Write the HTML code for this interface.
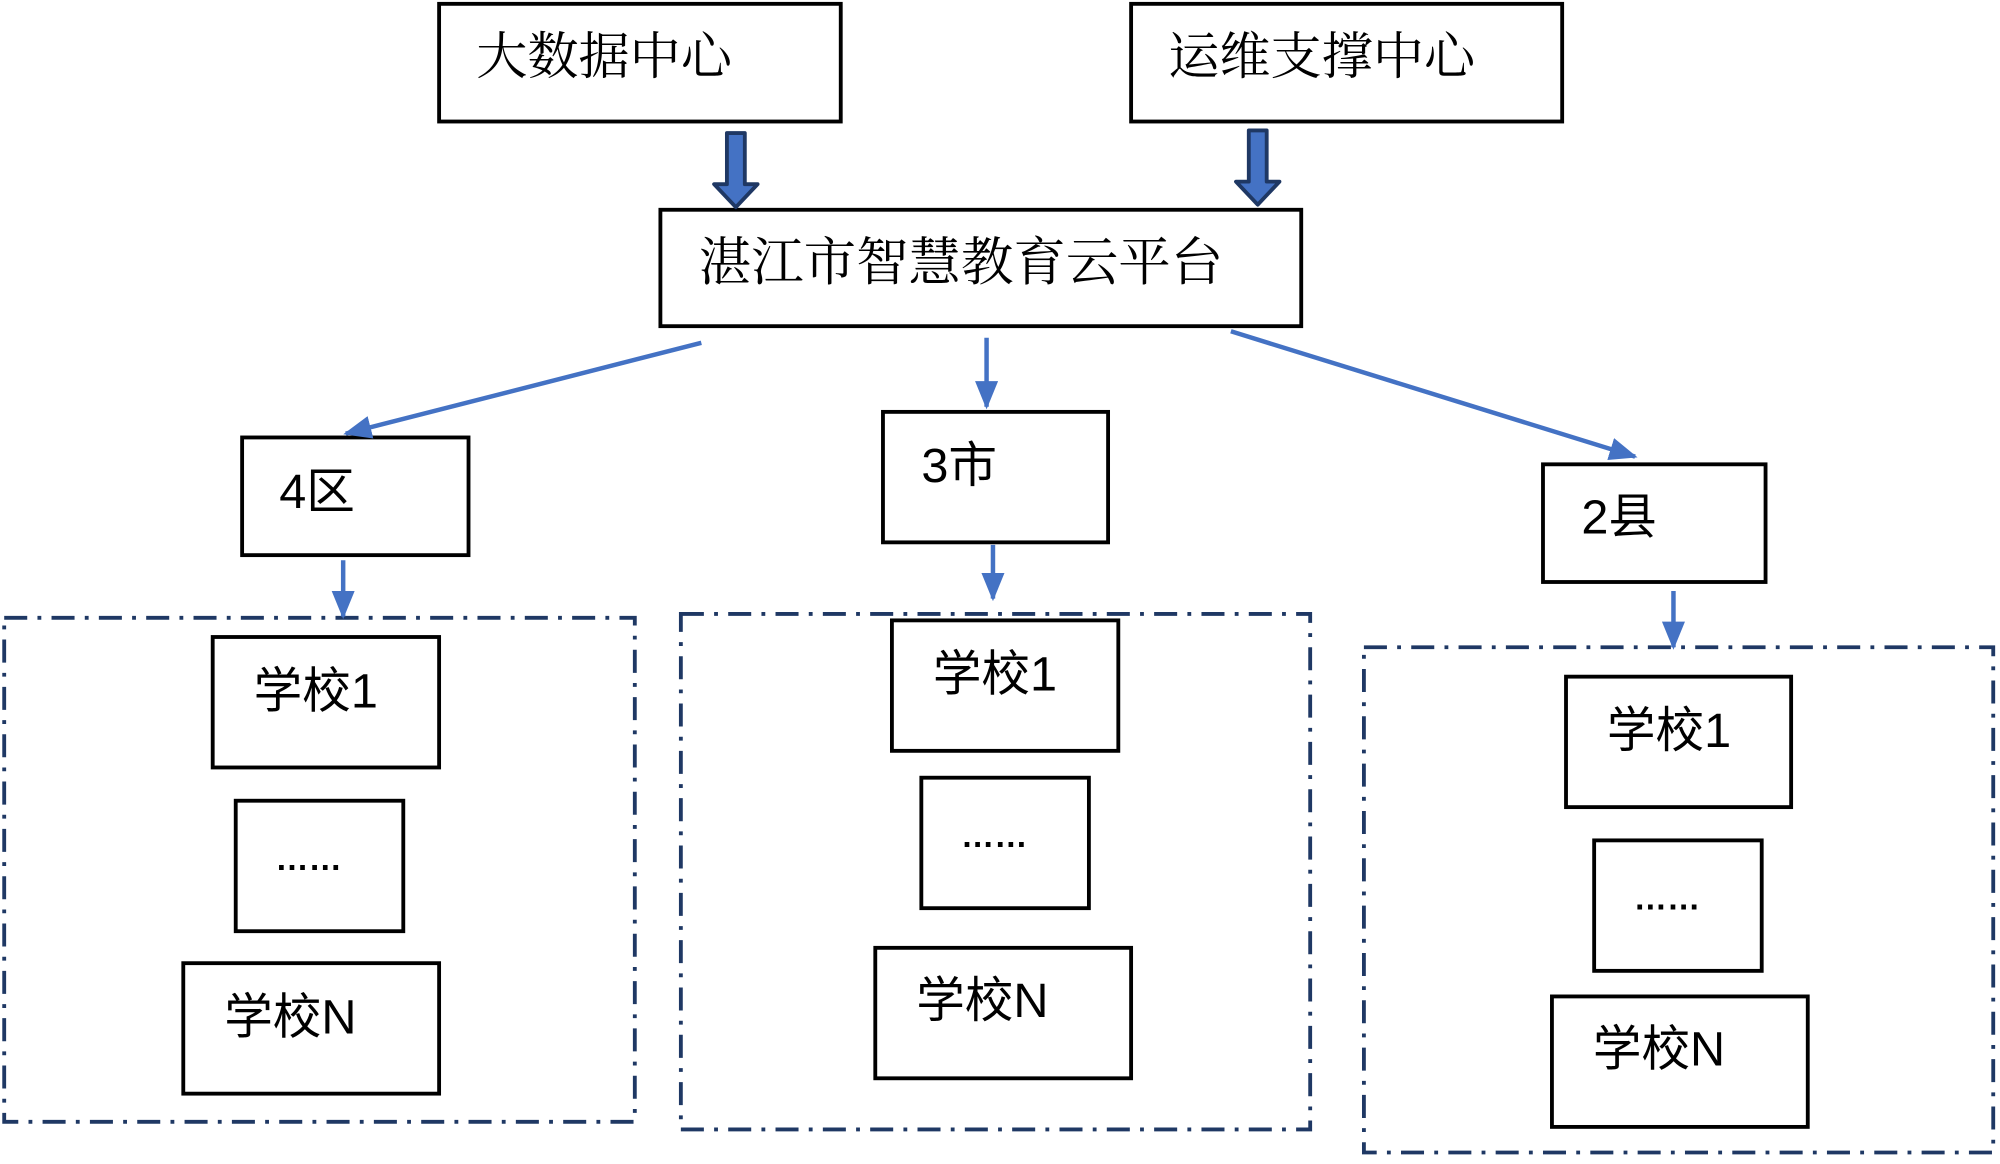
<!DOCTYPE html>
<html><head><meta charset="utf-8"><style>
html,body{margin:0;padding:0;background:#fff;}
svg{display:block;}
.s{font-family:"Liberation Sans","Noto Sans CJK SC",sans-serif;font-size:38px;fill:#000;}
.e{font-family:"Liberation Sans","Noto Sans CJK SC",sans-serif;font-size:26px;font-weight:bold;fill:#000;}
.f{font-family:"Liberation Serif","Noto Serif CJK SC",serif;font-size:40px;fill:#000;}
</style></head><body>
<svg width="2000" height="1164" viewBox="0 0 1563 910" xmlns="http://www.w3.org/2000/svg">
<defs>
<marker id="b" markerWidth="22" markerHeight="18" refX="20" refY="9" orient="auto" markerUnits="userSpaceOnUse">
<path d="M0,0 L22,9 L0,18 z" fill="#4472c4"/></marker>
</defs>
<g fill="none" stroke="#000" stroke-width="3">
<rect x="343" y="3" width="314" height="92"/>
<rect x="884" y="3" width="337" height="92"/>
<rect x="516" y="164" width="501" height="91"/>
<rect x="189" y="342" width="177" height="92"/>
<rect x="690" y="322" width="176" height="102"/>
<rect x="1206" y="363" width="174" height="92"/>
<rect x="166" y="498" width="177" height="102"/>
<rect x="184" y="626" width="131" height="102"/>
<rect x="143" y="753" width="200" height="102"/>
<rect x="697" y="485" width="177" height="102"/>
<rect x="720" y="608" width="131" height="102"/>
<rect x="684" y="741" width="200" height="102"/>
<rect x="1224" y="529" width="176" height="102"/>
<rect x="1246" y="657" width="131" height="102"/>
<rect x="1213" y="779" width="200" height="102"/>
</g>
<g fill="none" stroke="#1f3864" stroke-width="3" stroke-dasharray="18,8,3,8">
<rect x="3" y="483" width="493" height="394"/>
<rect x="532" y="480" width="492" height="403"/>
<rect x="1066" y="506" width="492" height="395"/>
</g>
<g fill="#4472c4" stroke="#1f3864" stroke-width="3" stroke-linejoin="round">
<path d="M568,104 L582,104 L582,144 L592,144 L575,162 L558,144 L568,144 Z"/>
<path d="M976,102 L990,102 L990,142 L1000,142 L983,160 L966,142 L976,142 Z"/>
</g>
<g stroke="#4472c4" stroke-width="3.5" fill="none">
<line x1="548" y1="268" x2="270" y2="339" marker-end="url(#b)"/>
<line x1="771" y1="264" x2="771" y2="318" marker-end="url(#b)"/>
<line x1="962" y1="259" x2="1278" y2="357" marker-end="url(#b)"/>
<line x1="268" y1="438" x2="268" y2="482" marker-end="url(#b)"/>
<line x1="776" y1="426" x2="776" y2="468" marker-end="url(#b)"/>
<line x1="1308" y1="462" x2="1308" y2="506" marker-end="url(#b)"/>
</g>
<text class="f" x="372" y="58">大数据中心</text>
<text class="f" x="913" y="58">运维支撑中心</text>
<text class="f" x="546" y="219" style="font-size:41px">湛江市智慧教育云平台</text>
<text class="s" x="218" y="397">4区</text>
<text class="s" x="720" y="377">3市</text>
<text class="s" x="1236" y="417">2县</text>
<text class="s" x="198" y="553">学校1</text>
<text class="e" x="215" y="680">……</text>
<text class="s" x="175" y="808">学校N</text>
<text class="s" x="729" y="540">学校1</text>
<text class="e" x="751" y="662">……</text>
<text class="s" x="716" y="795">学校N</text>
<text class="s" x="1256" y="584">学校1</text>
<text class="e" x="1277" y="711">……</text>
<text class="s" x="1245" y="833">学校N</text>
</svg>
</body></html>
